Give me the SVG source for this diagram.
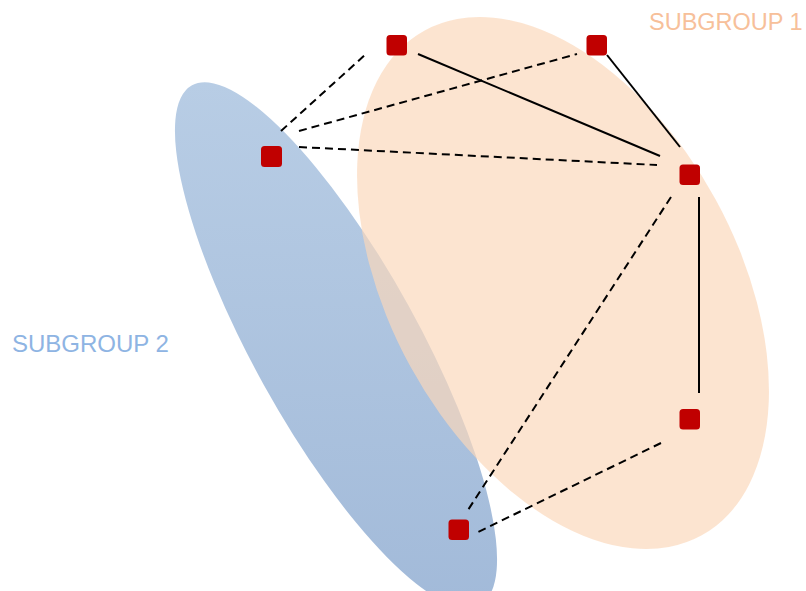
<svg xmlns="http://www.w3.org/2000/svg" width="806" height="591" viewBox="0 0 806 591">
  <defs>
    <linearGradient id="blueGrad" gradientUnits="userSpaceOnUse" x1="106" y1="217.5" x2="566" y2="472.5">
      <stop offset="0" stop-color="#B8CDE5"/>
      <stop offset="1" stop-color="#A2BAD9"/>
    </linearGradient>
    <style>
      .node { fill: #C00000; }
      .solid { stroke: #000; stroke-width: 2; fill: none; }
      .dashed { stroke: #000; stroke-width: 2; fill: none; stroke-dasharray: 8 5; }
      .label { font-family: "Liberation Sans", Arial, sans-serif; font-size: 24px; }
    </style>
  </defs>
  <rect width="806" height="591" fill="#FFFFFF"/>
  <g id="subgroup2">
    <ellipse cx="336" cy="345" rx="297" ry="82.5" transform="rotate(61 336 345)" fill="url(#blueGrad)"/>
  </g>
  <g id="subgroup1">
    <ellipse cx="563" cy="283" rx="288" ry="174" transform="rotate(61.3 563 283)" fill="#FBD7B9" fill-opacity="0.68"/>
  </g>
  <g id="labels">
    <text class="label" x="649" y="30" fill="#F7C09A" style="font-size:23.5px">SUBGROUP 1</text>
    <text class="label" x="12" y="352" fill="#8EB4E3">SUBGROUP 2</text>
  </g>
  <g id="connectors">
    <line class="dashed" x1="281" y1="131" x2="366" y2="54"/>
    <line class="dashed" x1="299" y1="131" x2="577" y2="54"/>
    <line class="dashed" x1="299" y1="147" x2="657" y2="165"/>
    <line class="solid" x1="418" y1="54" x2="660" y2="156"/>
    <line class="solid" x1="607" y1="55" x2="680" y2="147"/>
    <line class="solid" x1="699" y1="197" x2="699" y2="393"/>
    <line class="dashed" x1="671" y1="197" x2="468" y2="510"/>
    <line class="dashed" x1="661" y1="443" x2="478" y2="532"/>
  </g>
  <g id="node-a"><rect class="node" x="386.5" y="35" width="20.5" height="20.5" rx="3.5"/></g>
  <g id="node-b"><rect class="node" x="586.5" y="35" width="20.5" height="20.5" rx="3.5"/></g>
  <g id="node-c"><rect class="node" x="261" y="146" width="21" height="21" rx="3.5"/></g>
  <g id="node-d"><rect class="node" x="679.5" y="164.5" width="20.5" height="20.5" rx="3.5"/></g>
  <g id="node-e"><rect class="node" x="679.5" y="409" width="20.5" height="20.5" rx="3.5"/></g>
  <g id="node-f"><rect class="node" x="448.5" y="519.5" width="20.5" height="20.5" rx="3.5"/></g>
</svg>
